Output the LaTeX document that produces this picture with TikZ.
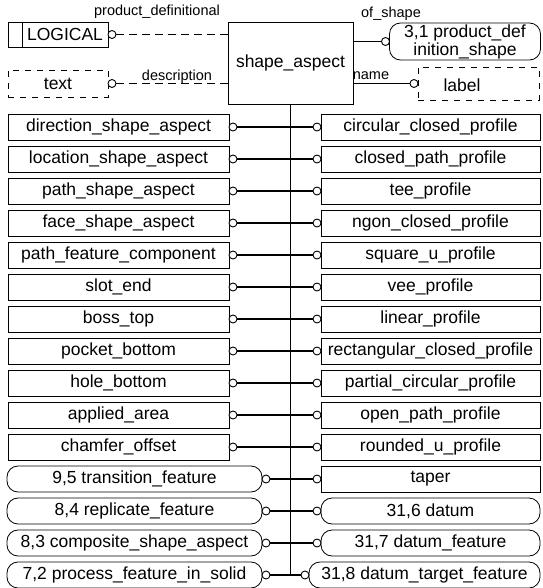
\documentclass[tikz,border=0pt]{standalone}
\usepackage{fontspec}
\setmainfont{Liberation Sans}
\begin{document}
\begin{tikzpicture}[x=1pt,y=-1pt,
  ebox/.style={draw, line width=0.8pt, inner sep=0pt, outer sep=0pt, font=\fontsize{17.5}{18}\selectfont},
  dbox/.style={ebox, dash pattern=on 6pt off 6pt},
  rbox/.style={ebox, rounded corners=11pt},
  circ/.style={circle, draw, fill=white, line width=0.9pt, minimum size=8pt, inner sep=0pt, outer sep=0pt},
  conn/.style={line width=1.3pt},
  opt/.style={line width=1pt, dash pattern=on 8pt off 5pt},
  lbl/.style={inner sep=0pt, font=\fontsize{14.5}{15}\selectfont},
  trunk/.style={line width=1.6pt}]
\fill[white] (0,0) rectangle (542,588);
\useasboundingbox (0,0) rectangle (542,588);

% central entity
\node[ebox, minimum width=125pt, minimum height=82pt] (sa) at (290.5,63) {shape\_aspect};

% top-left
\node[ebox, minimum width=100pt, minimum height=25pt] (lg) at (58,34.5) {\hspace*{14pt}LOGICAL};
\draw[line width=0.8pt] ([xshift=14pt]lg.north west) -- ([xshift=14pt]lg.south west);
\node[circ, anchor=west] (lgc) at (lg.east) {};
\draw[opt] (lgc) -- (lgc -| sa.west);
\node[lbl] (lpd) at (157,12) {product\_definitional};

\node[dbox, minimum width=100pt, minimum height=27pt] (tx) at (58,83.5) {text};
\node[circ, anchor=west] (txc) at (tx.east) {};
\draw[opt] (txc) -- (txc -| sa.west);
\node[lbl] (ldesc) at (177,77) {description};

% top-right
\node[rbox, minimum width=151pt, minimum height=37pt, align=center] (pds) at (465,41.5) {3,1 product\_def\\inition\_shape};
\node[circ, anchor=east] (pdsc) at (pds.west) {};
\draw[conn] (pdsc -| sa.east) -- (pdsc);
\node[lbl] (los) at (391,14) {of\_shape};

\node[dbox, minimum width=121pt, minimum height=33pt] (lab) at (478.5,83.5) {};
\node[inner sep=0pt, font=\fontsize{17.5}{18}\selectfont] (labt) at (462,85) {label};
\node[circ, anchor=east] (labc) at (lab.west) {};
\draw[conn] (labc -| sa.east) -- (labc);
\node[lbl] (lname) at (371,76) {name};

% left column
\foreach \i/\t in {0/direction\_shape\_aspect,1/location\_shape\_aspect,2/path\_shape\_aspect,
  3/face\_shape\_aspect,4/path\_feature\_component,5/slot\_end,6/boss\_top,7/pocket\_bottom,
  8/hole\_bottom,9/applied\_area,10/chamfer\_offset}
  \node[ebox, minimum width=221pt, minimum height=26pt] (L\i) at (118.5,{127+32*\i}) {\t};
\node[rbox, minimum width=255pt, minimum height=26pt] (L11) at (134.5,479) {9,5 transition\_feature};
\node[rbox, minimum width=255pt, minimum height=26pt] (L12) at (134.5,511) {8,4 replicate\_feature};
\node[rbox, minimum width=255pt, minimum height=26pt] (L13) at (134.5,543) {8,3 composite\_shape\_aspect};
\node[rbox, minimum width=255pt, minimum height=26pt] (L14) at (134.5,575) {7,2 process\_feature\_in\_solid};

% right column
\foreach \i/\t in {0/circular\_closed\_profile,1/closed\_path\_profile,2/tee\_profile,
  3/ngon\_closed\_profile,4/square\_u\_profile,5/vee\_profile,6/linear\_profile,
  7/rectangular\_closed\_profile,8/partial\_circular\_profile,9/open\_path\_profile,
  10/rounded\_u\_profile,11/taper}
  \node[ebox, minimum width=219pt, minimum height=26pt] (R\i) at (430.5,{127+32*\i}) {\t};
\node[rbox, minimum width=219pt, minimum height=26pt] (R12) at (430.5,511) {31,6 datum};
\node[rbox, minimum width=219pt, minimum height=26pt] (R13) at (430.5,543) {31,7 datum\_feature};
\node[rbox, minimum width=231pt, minimum height=26pt] (R14) at (424.5,575) {31,8 datum\_target\_feature};

% trunk
\draw[trunk] (sa.south) -- (sa.south |- L14.center);

\foreach \i in {0,...,14} {
  \node[circ, anchor=west] (lc\i) at (L\i.east) {};
  \draw[conn] (lc\i) -- (lc\i -| sa.south);
  \node[circ, anchor=east] (rc\i) at (R\i.west) {};
  \draw[conn] (rc\i -| sa.south) -- (rc\i);
}
\end{tikzpicture}
\end{document}
